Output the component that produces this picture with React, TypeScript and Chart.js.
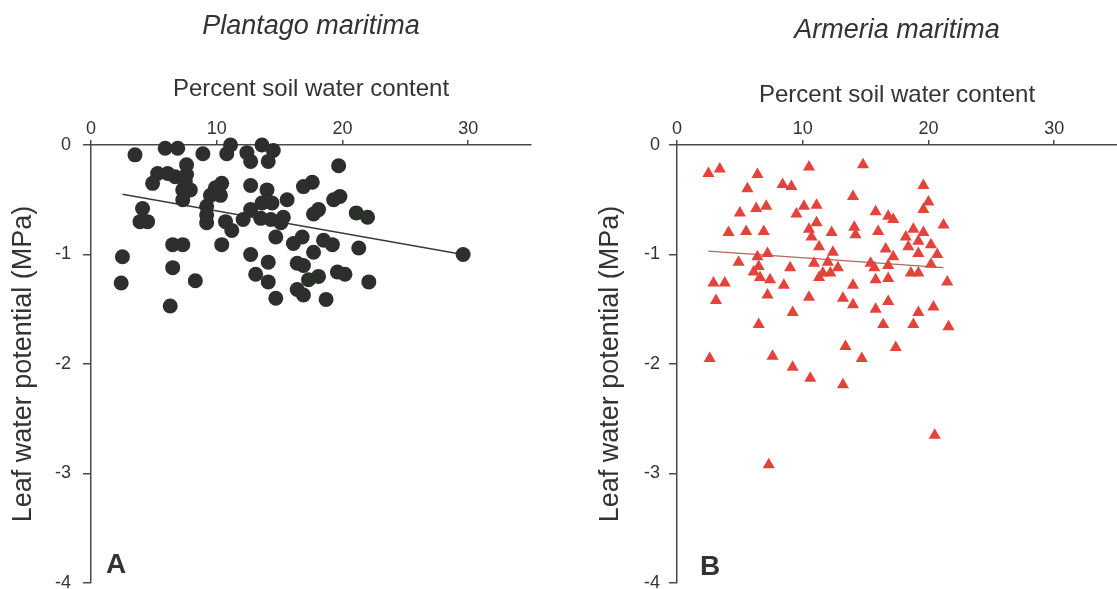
import React, { useEffect, useRef } from 'react';
import { Chart, registerables } from 'chart.js';

Chart.register(...registerables);

// ---------- data ----------
const plantagoX = [
  3.5, 5.9, 6.9, 8.9, 11.1, 10.8, 12.4, 12.7, 13.6, 14.5, 14.1, 7.6, 7.6, 5.3, 6.1, 6.7, 4.9, 7.9, 7.3, 7.5,
  7.3, 10.4, 9.9, 9.5, 10.3, 12.7, 14.0, 4.1, 4.5, 3.9, 9.2, 9.2, 9.2, 10.7, 11.2, 12.1, 12.7, 13.6, 14.4, 13.5,
  14.3, 14.7, 6.5, 7.3, 10.4, 2.5, 6.5, 12.7, 14.1, 2.4, 8.3, 13.1, 14.1, 6.3, 14.7, 19.7, 17.6, 16.9, 19.8, 19.3,
  15.6, 18.1, 17.7, 21.1, 22.0, 15.3, 15.1, 16.8, 16.1, 18.5, 19.2, 21.3, 29.6, 17.7, 16.4, 16.9, 18.1, 17.3, 19.6, 20.2,
  22.1, 16.4, 16.9, 18.7,
];
const plantagoY = [
  -0.09, -0.03, -0.03, -0.08, 0.0, -0.08, -0.07, -0.15, 0.0, -0.05, -0.15, -0.18, -0.27, -0.26, -0.26, -0.29, -0.35, -0.41, -0.41, -0.33,
  -0.5, -0.35, -0.39, -0.46, -0.46, -0.37, -0.41, -0.58, -0.7, -0.7, -0.56, -0.64, -0.71, -0.7, -0.78, -0.68, -0.59, -0.53, -0.53, -0.67,
  -0.68, -0.84, -0.91, -0.91, -0.91, -1.02, -1.12, -1.0, -1.07, -1.26, -1.24, -1.18, -1.25, -1.47, -1.4, -0.19, -0.34, -0.38, -0.47, -0.5,
  -0.5, -0.59, -0.63, -0.62, -0.66, -0.66, -0.71, -0.84, -0.9, -0.87, -0.91, -0.94, -1.0, -0.98, -1.08, -1.1, -1.2, -1.23, -1.16, -1.18,
  -1.25, -1.32, -1.37, -1.41,
];
const plantagoFitX = [2.5, 29.6];
const plantagoFitY = [-0.45, -1.0];

const armeriaX = [
  2.5, 3.4, 6.4, 10.5, 14.8, 5.6, 8.4, 9.1, 5.0, 6.3, 7.1, 9.5, 10.1, 11.1, 11.1, 14.0, 4.1, 5.5, 6.9, 10.5,
  10.7, 12.3, 14.1, 14.2, 11.3, 12.4, 4.9, 6.4, 7.2, 6.5, 6.1, 9.0, 10.9, 12.0, 12.8, 11.6, 12.2, 11.3, 6.6, 7.4,
  2.9, 3.8, 8.5, 14.0, 3.1, 7.2, 10.5, 13.2, 14.0, 9.2, 6.5, 19.6, 20.0, 19.6, 15.8, 16.8, 17.2, 21.2, 16.0, 18.8,
  19.6, 18.2, 19.2, 20.2, 18.4, 16.6, 17.2, 19.2, 20.7, 15.4, 16.8, 20.2, 15.7, 18.6, 19.2, 16.8, 15.8, 21.5, 16.8, 15.8,
  20.4, 19.2, 16.4, 18.8, 21.6, 13.4, 17.4, 2.6, 7.6, 9.2, 14.7, 10.6, 13.2, 20.5, 7.3,
];
const armeriaY = [
  -0.26, -0.22, -0.27, -0.2, -0.18, -0.4, -0.36, -0.38, -0.62, -0.58, -0.56, -0.63, -0.56, -0.55, -0.71, -0.47, -0.8, -0.79, -0.79, -0.77,
  -0.84, -0.8, -0.75, -0.82, -0.93, -0.98, -1.07, -1.02, -0.99, -1.11, -1.16, -1.12, -1.08, -1.07, -1.12, -1.17, -1.17, -1.21, -1.21, -1.23,
  -1.26, -1.26, -1.28, -1.28, -1.42, -1.37, -1.39, -1.4, -1.46, -1.53, -1.64, -0.37, -0.52, -0.59, -0.61, -0.65, -0.68, -0.73, -0.79, -0.77,
  -0.8, -0.84, -0.88, -0.91, -0.93, -0.95, -1.02, -0.99, -1.0, -1.08, -1.1, -1.09, -1.12, -1.17, -1.17, -1.22, -1.23, -1.25, -1.43, -1.5,
  -1.48, -1.53, -1.64, -1.64, -1.66, -1.84, -1.85, -1.95, -1.93, -2.03, -1.95, -2.13, -2.19, -2.65, -2.92,
];
const armeriaFitX = [2.5, 21.2];
const armeriaFitY = [-0.97, -1.12];

const xTickValues = [0, 10, 20, 30];
const yTickValues = [0, -1, -2, -3, -4];

const titles = ['Plantago maritima', 'Armeria maritima'];
const xAxisTitle = 'Percent soil water content';
const yAxisTitle = 'Leaf water potential (MPa)';
const panelLetters = ['A', 'B'];

// ---------- styling ----------
const FONT = '"Liberation Sans", Arial, Helvetica, sans-serif';
const TEXT = '#333333';
const AXIS = '#4a4a4a';
const TITLE_SIZE = 27;

const panelLabelPlugin = {
  id: 'panelLabel',
  afterDraw(chart: any, _args: any, opts: any) {
    const { ctx, chartArea } = chart;
    ctx.save();
    ctx.font = `bold 28px ${FONT}`;
    ctx.fillStyle = TEXT;
    ctx.textBaseline = 'alphabetic';
    ctx.textAlign = 'left';
    ctx.fillText(opts.text, chartArea.left + opts.dx, chartArea.bottom - opts.dy);
    ctx.restore();
  },
};

type PanelCfg = {
  xs: number[];
  ys: number[];
  fitX: number[];
  fitY: number[];
  title: string;
  letter: string;
  pointStyle: string;
  pointRadius: number;
  pointColor: string;
  lineColor: string;
  lineWidth: number;
  rightPad: number;
  titlePadTop: number;
  xTitleCenter: number;
  yTitlePadTop: number;
  yTickPad: number;
  letterDx: number;
  letterDy: number;
};

function makeChart(canvas: HTMLCanvasElement, c: PanelCfg) {
  const titleBox = c.titlePadTop + TITLE_SIZE * 1.2;
  const xScaleHeight = 145 - titleBox;
  const xTitleSize = 24;
  const xTitlePad = c.xTitleCenter - titleBox - (xTitleSize * 1.2) / 2;
  const pts = c.xs.map((x, i) => ({ x, y: c.ys[i] }));
  const fit = c.fitX.map((x, i) => ({ x, y: c.fitY[i] }));
  return new Chart(canvas, {
    type: 'scatter',
    data: {
      datasets: [
        {
          type: 'scatter',
          data: pts,
          pointStyle: c.pointStyle as any,
          pointRadius: c.pointRadius,
          pointHoverRadius: c.pointRadius,
          backgroundColor: c.pointColor,
          borderColor: c.pointColor,
          borderWidth: 0,
          clip: false as any,
          order: 1,
        } as any,
        {
          type: 'line',
          data: fit,
          borderColor: c.lineColor,
          borderWidth: c.lineWidth,
          pointRadius: 0,
          fill: false,
          showLine: true,
          order: 2,
        } as any,
      ],
    },
    options: {
      responsive: false,
      animation: false,
      events: [],
      layout: { padding: { left: 0, right: c.rightPad, top: 0, bottom: 17 } },
      plugins: {
        legend: { display: false },
        tooltip: { enabled: false },
        title: {
          display: true,
          text: c.title,
          fullSize: false,
          color: TEXT,
          font: { family: FONT, size: TITLE_SIZE, style: 'italic', weight: 'normal', lineHeight: 1.2 },
          padding: { top: c.titlePadTop, bottom: 0 },
        },
        panelLabel: { text: c.letter, dx: c.letterDx, dy: c.letterDy },
      } as any,
      scales: {
        x: {
          type: 'linear',
          position: 'top',
          min: 0,
          max: 35,
          afterBuildTicks: (s: any) => {
            s.ticks = xTickValues.map((v) => ({ value: v }));
          },
          afterFit: (s: any) => {
            s.height = xScaleHeight;
            s.paddingLeft = 0;
            s.paddingRight = 0;
          },
          ticks: {
            color: TEXT,
            font: { family: FONT, size: 18 },
            padding: 0,
            maxRotation: 0,
            autoSkip: false,
          },
          grid: { drawOnChartArea: false, drawTicks: true, tickLength: 5, color: AXIS, lineWidth: 1.5 },
          border: { display: true, color: AXIS, width: 1.5 },
          title: {
            display: true,
            text: xAxisTitle,
            color: TEXT,
            font: { family: FONT, size: xTitleSize, lineHeight: 1.2 },
            padding: { top: xTitlePad, bottom: 0 },
          },
        },
        y: {
          type: 'linear',
          position: 'left',
          min: -4,
          max: 0,
          afterBuildTicks: (s: any) => {
            s.ticks = yTickValues.map((v) => ({ value: v }));
          },
          afterFit: (s: any) => {
            s.width = 91;
            s.paddingTop = 0;
            s.paddingBottom = 0;
          },
          ticks: {
            color: TEXT,
            font: { family: FONT, size: 18 },
            padding: c.yTickPad,
            autoSkip: false,
          },
          grid: { drawOnChartArea: false, drawTicks: true, tickLength: 8, color: AXIS, lineWidth: 1.5 },
          border: { display: true, color: AXIS, width: 1.5 },
          title: {
            display: true,
            text: yAxisTitle,
            color: TEXT,
            font: { family: FONT, size: 27, lineHeight: 1.2 },
            padding: { top: c.yTitlePadTop, bottom: 0 },
          },
        },
      },
    },
    plugins: [panelLabelPlugin as any],
  });
}

export default function App() {
  const leftRef = useRef<HTMLCanvasElement>(null);
  const rightRef = useRef<HTMLCanvasElement>(null);

  useEffect(() => {
    const left = makeChart(leftRef.current!, {
      xs: plantagoX,
      ys: plantagoY,
      fitX: plantagoFitX,
      fitY: plantagoFitY,
      title: titles[0],
      letter: panelLetters[0],
      pointStyle: 'circle',
      pointRadius: 7.5,
      pointColor: '#2c2f2c',
      lineColor: '#3a3a3a',
      lineWidth: 1.5,
      rightPad: 27,
      titlePadTop: 10,
      xTitleCenter: 89.5,
      yTitlePadTop: 7,
      yTickPad: 12,
      letterDx: 15,
      letterDy: 10,
    });
    const right = makeChart(rightRef.current!, {
      xs: armeriaX,
      ys: armeriaY,
      fitX: armeriaFitX,
      fitY: armeriaFitY,
      title: titles[1],
      letter: panelLetters[1],
      pointStyle: 'triangle',
      pointRadius: 7,
      pointColor: '#e3433b',
      lineColor: '#b86262',
      lineWidth: 1.3,
      rightPad: 10,
      titlePadTop: 14,
      xTitleCenter: 95,
      yTitlePadTop: 8,
      yTickPad: 9,
      letterDx: 23,
      letterDy: 8,
    });
    return () => {
      left.destroy();
      right.destroy();
    };
  }, []);

  return (
    <div
      style={{
        position: 'fixed',
        left: 0,
        top: 0,
        width: 1117,
        height: 589,
        background: '#ffffff',
        overflow: 'hidden',
      }}
    >
      <canvas ref={leftRef} width={558} height={600} style={{ position: 'absolute', left: 0, top: 0 }} />
      <canvas ref={rightRef} width={541} height={600} style={{ position: 'absolute', left: 586, top: 0 }} />
    </div>
  );
}
